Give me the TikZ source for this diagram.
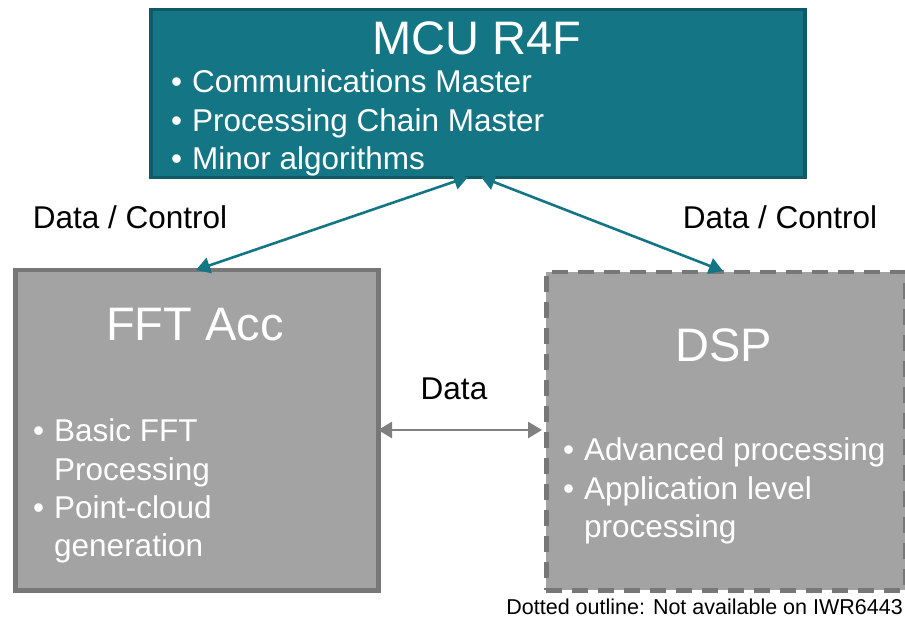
\documentclass[tikz,border=0pt]{standalone}
\usepackage{fontspec}
\setmainfont{Liberation Sans}
\usetikzlibrary{arrows.meta}
\definecolor{tealfill}{HTML}{147585}
\definecolor{tealdark}{HTML}{0E5A66}
\definecolor{greyfill}{HTML}{A3A3A3}
\definecolor{greyline}{HTML}{777777}
\definecolor{greyarrow}{HTML}{808080}
\begin{document}
\begin{tikzpicture}[x=1pt,y=-1pt,
  title/.style={text=white,font=\fontsize{47}{52}\selectfont,inner sep=0pt,anchor=base},
  bul/.style={text=white,font=\fontsize{31.5}{36}\selectfont,inner sep=0pt,anchor=base west},
  lab/.style={text=black,font=\fontsize{31.5}{36}\selectfont,inner sep=0pt,anchor=base},
  tealarrow/.style={draw=tealfill,line width=2.6pt,{Triangle[width=16pt,length=14pt]}-{Triangle[width=16pt,length=14pt]}},
  greyarr/.style={draw=greyarrow,line width=2.6pt,{Triangle[width=16pt,length=14pt]}-{Triangle[width=16pt,length=14pt]}}]
\useasboundingbox (0,0) rectangle (905,617);
% boxes
\node[draw=tealdark,fill=tealfill,line width=3.5pt,inner sep=0pt,minimum width=654pt,minimum height=168pt,anchor=north west] (mcu) at (149,8) {};
\node[draw=greyline,fill=greyfill,line width=4.5pt,inner sep=0pt,minimum width=363pt,minimum height=320pt,anchor=north west] (fft) at (13,268) {};
\node[draw=greyline,fill=greyfill,line width=4.5pt,dash pattern=on 16pt off 10pt,inner sep=0pt,minimum width=359pt,minimum height=318pt,anchor=north west] (dsp) at (544,270) {};
% MCU text
\node[title] (mcut) at (477,55) {MCU R4F};
\node[bul] (mb1) at (192,93) {\llap{\textbullet\hspace{10pt}}Communications Master};
\node[bul] (mb2) at (192,132) {\llap{\textbullet\hspace{10pt}}Processing Chain Master};
\node[bul] (mb3) at (192,170) {\llap{\textbullet\hspace{10pt}}Minor algorithms};
% FFT text
\node[title] (fftt) at (195,341) {FFT Acc};
\node[bul] (fb1) at (54,442) {\llap{\textbullet\hspace{10pt}}Basic FFT};
\node[bul] (fb2) at (54,480) {Processing};
\node[bul] (fb3) at (54,518) {\llap{\textbullet\hspace{10pt}}Point-cloud};
\node[bul] (fb4) at (54,556) {generation};
% DSP text
\node[title] (dspt) at (724,362) {DSP};
\node[bul] (db1) at (584,460) {\llap{\textbullet\hspace{10pt}}Advanced processing};
\node[bul] (db2) at (584,499) {\llap{\textbullet\hspace{10pt}}Application level};
\node[bul] (db3) at (584,537) {processing};
% labels
\node[lab] (dcl) at (130,229) {Data / Control};
\node[lab] (dcr) at (780,229) {Data / Control};
\node[lab] (dl) at (454,400) {Data};
\node[text=black,font=\fontsize{21.5}{24}\selectfont,inner sep=0pt,anchor=base east] (note) at (903,614) {Dotted outline: Not available on IWR6443};
% connectors
\coordinate (m1) at (468,177);
\coordinate (m2) at (481,177);
\coordinate (f1) at (196,270);
\coordinate (d1) at (723,271);
\coordinate (fe) at (378,430);
\coordinate (dw) at (542,430);
\draw[tealarrow] (m1) -- (f1);
\draw[tealarrow] (m2) -- (d1);
\draw[greyarr] (fe) -- (dw);
\end{tikzpicture}
\end{document}
